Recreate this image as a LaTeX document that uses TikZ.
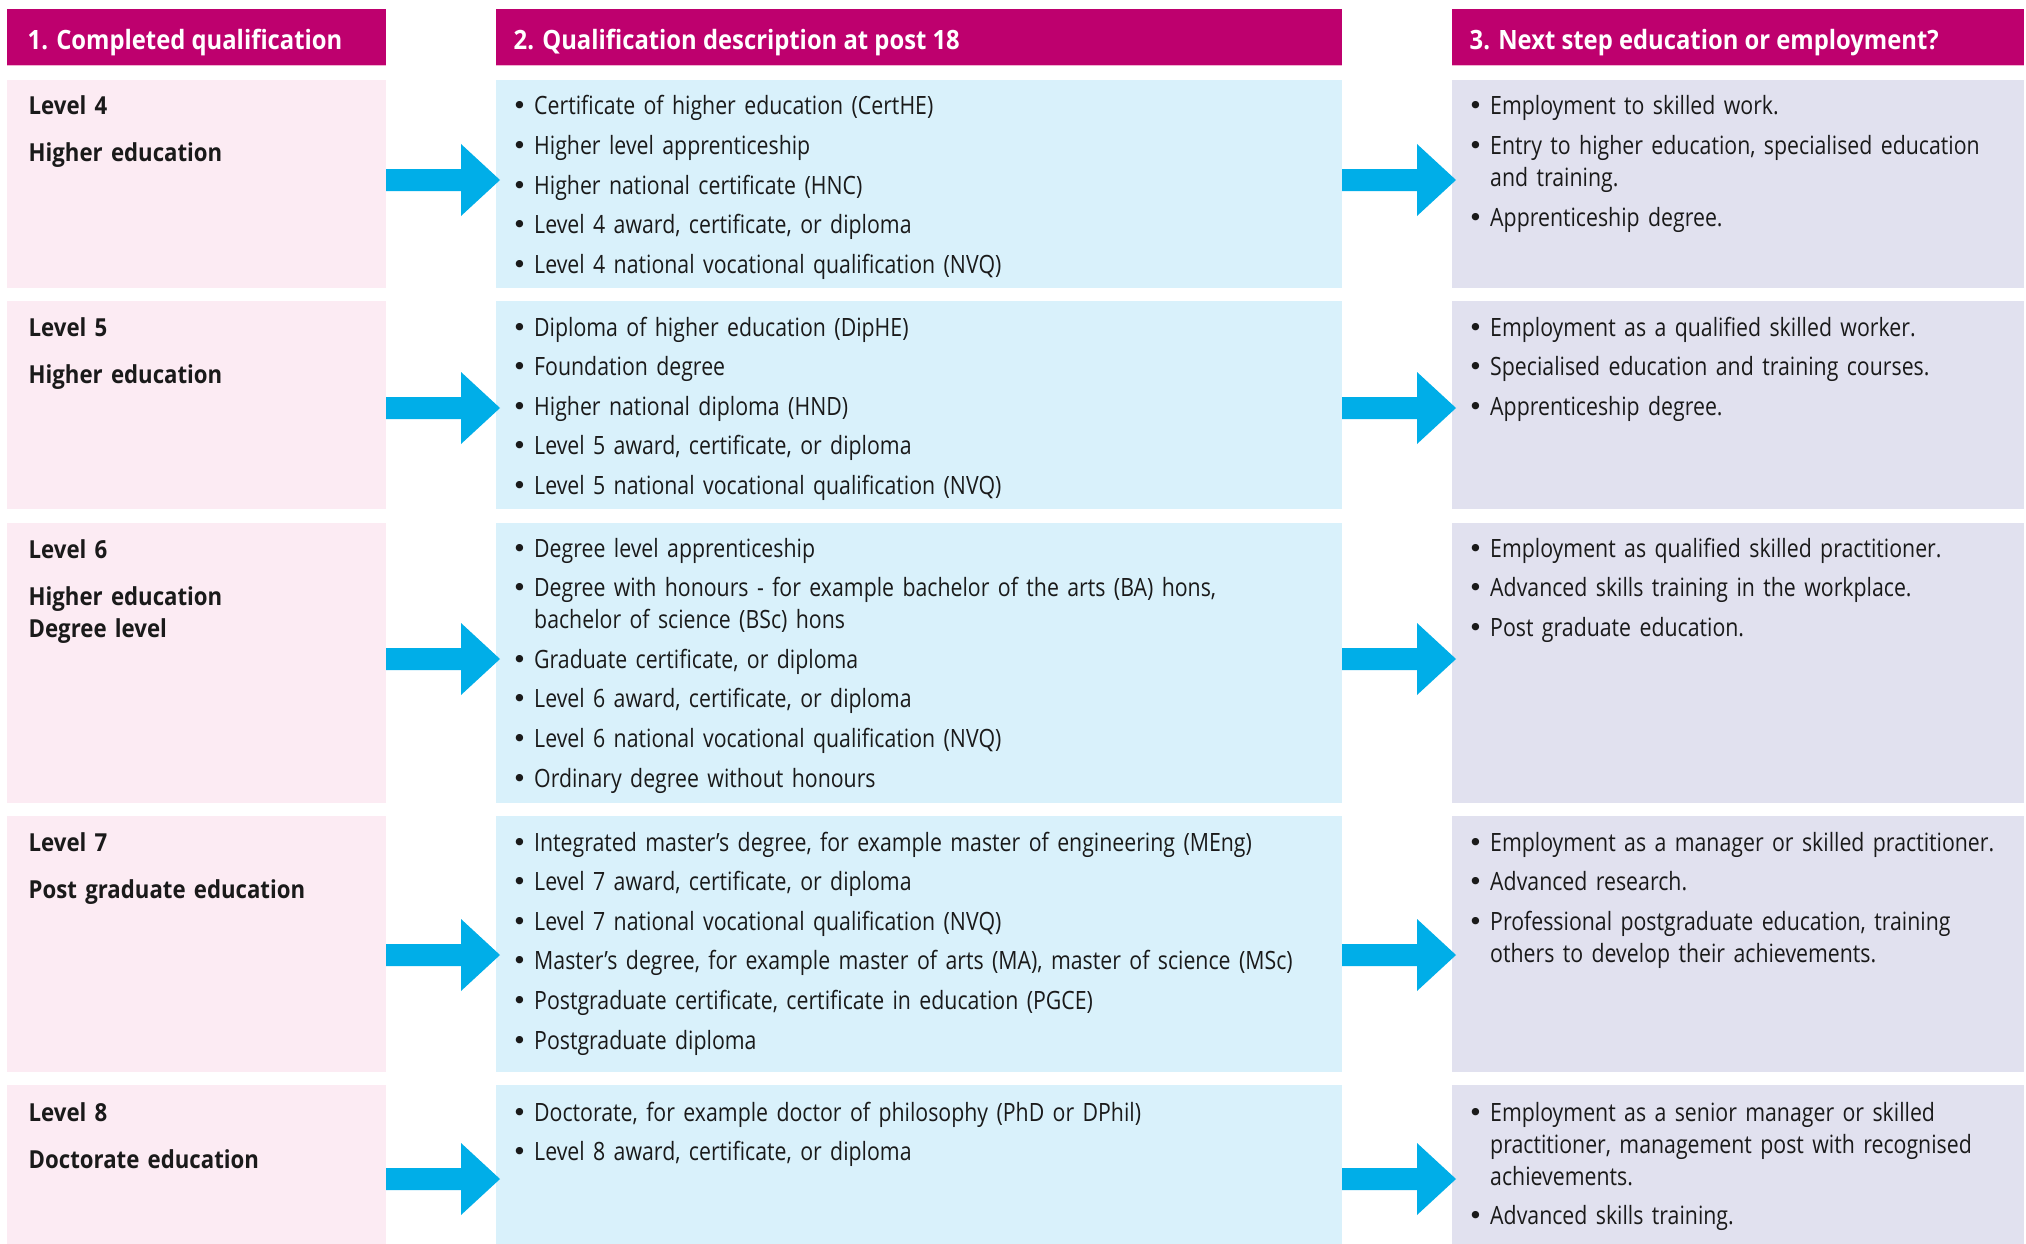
\documentclass[tikz,border=0pt]{standalone}
\usepackage{fontspec}
\setmainfont{Open Sans}[FakeStretch=0.845]
\newfontfamily\hdfont{Open Sans}[FakeStretch=0.895]
\newfontfamily\bulfont{DejaVu Sans}
\usetikzlibrary{calc}
\definecolor{hdrc}{RGB}{190,0,110}
\definecolor{pinkc}{RGB}{252,235,243}
\definecolor{bluec}{RGB}{217,241,251}
\definecolor{lavc}{RGB}{225,225,239}
\definecolor{arrc}{RGB}{0,174,232}
\definecolor{txtc}{RGB}{26,26,26}
\definecolor{linec}{RGB}{240,176,208}
\newcommand\bmark{\makebox[22pt][l]{\bulfont •}}
\newcommand\fitem[1]{\hangindent=22pt\hangafter=1\bmark#1\par}
\newcommand\bitem[1]{\par\hangindent=22pt\hangafter=1\noindent\bmark#1\par}
\tikzset{
  cell/.style={anchor=north west, inner sep=0pt, outer sep=0pt, draw=none},
  lcell/.style={cell, fill=pinkc, minimum width=379pt},
  mcell/.style={cell, fill=bluec, minimum width=846pt},
  rcell/.style={cell, fill=lavc, minimum width=572pt},
  hdrbox/.style={cell, fill=hdrc, minimum height=57pt},
  hdrtext/.style={anchor=base west, inner sep=0pt, text=white, font=\hdfont\bfseries\fontsize{26.6}{32}\selectfont},
  lvltext/.style={anchor=base west, inner sep=0pt, text=txtc, text width=340pt, align=left, font=\hdfont\bfseries\fontsize{24.8}{32}\selectfont},
  bultext/.style={anchor=base west, inner sep=0pt, text=txtc, align=left, font=\fontsize{25.2}{32}\selectfont},
  arrowfill/.style={fill=arrc, draw=none}
}
\newcommand\bigarrow[1]{%
  \fill[arrowfill] ($(#1)+(0,-11)$) -- ++(75,0) -- ++(0,-25) -- ($(#1)+(114,0)$) -- ++(-39,36) -- ++(0,-25) -- ++(-75,0) -- cycle;}
\begin{document}
\begin{tikzpicture}[x=1pt,y=-1pt]
\useasboundingbox (0,0) rectangle (2026,1244);
\fill[white] (0,0) rectangle (2026,1244);
% headers
\node[hdrbox, minimum width=379pt] (H1) at (7,9) {};
\node[hdrbox, minimum width=846pt] (H2) at (496,9) {};
\node[hdrbox, minimum width=572pt] (H3) at (1452,9) {};
\draw[linec, line width=1pt] (H1.south west) -- (H1.south east);
\draw[linec, line width=1pt] (H2.south west) -- (H2.south east);
\draw[linec, line width=1pt] (H3.south west) -- (H3.south east);
\node[hdrtext] (HT1) at (27.5,50) {1. Completed qualification};
\node[hdrtext] (HT2) at (513.5,50) {2. Qualification description at post 18};
\node[hdrtext] (HT3) at (1469.5,50) {3. Next step education or employment?};
% cells
\node[lcell, minimum height=208pt] (L1) at (7,80) {};
\node[mcell, minimum height=208pt] (M1) at (496,80) {};
\node[rcell, minimum height=208pt] (R1) at (1452,80) {};
\node[lcell, minimum height=208pt] (L2) at (7,301) {};
\node[mcell, minimum height=208pt] (M2) at (496,301) {};
\node[rcell, minimum height=208pt] (R2) at (1452,301) {};
\node[lcell, minimum height=280pt] (L3) at (7,523) {};
\node[mcell, minimum height=280pt] (M3) at (496,523) {};
\node[rcell, minimum height=280pt] (R3) at (1452,523) {};
\node[lcell, minimum height=256pt] (L4) at (7,816) {};
\node[mcell, minimum height=256pt] (M4) at (496,816) {};
\node[rcell, minimum height=256pt] (R4) at (1452,816) {};
\node[lcell, minimum height=159pt] (L5) at (7,1085) {};
\node[mcell, minimum height=159pt] (M5) at (496,1085) {};
\node[rcell, minimum height=159pt] (R5) at (1452,1085) {};
% arrow rows
\coordinate (y1) at (0,180);
\coordinate (y2) at (0,408);
\coordinate (y3) at (0,659);
\coordinate (y4) at (0,955);
\coordinate (y5) at (0,1179);
\foreach \i in {1,...,5}{
  \coordinate (al\i) at (L\i.east |- y\i);
  \coordinate (ar\i) at (M\i.east |- y\i);
  \bigarrow{al\i}
  \bigarrow{ar\i}
}
% left texts
\node[lvltext] (LT1) at (28.5,115) {Level 4\\[15pt]Higher education};
\node[lvltext] (LT2) at (28.5,336) {Level 5\\[15pt]Higher education};
\node[lvltext] (LT3) at (28.5,558) {Level 6\\[15pt]Higher education\\Degree level};
\node[lvltext] (LT4) at (28.5,851) {Level 7\\[15pt]Post graduate education};
\node[lvltext] (LT5) at (28.5,1121) {Level 8\\[15pt]Doctorate education};
% middle texts
\node[bultext, text width=820pt] (MT1) at (512,115) {\setlength{\parskip}{7.6pt}%
\fitem{Certificate of higher education (CertHE)}
\bitem{Higher level apprenticeship}
\bitem{Higher national certificate (HNC)}
\bitem{Level 4 award, certificate, or diploma}
\bitem{Level 4 national vocational qualification (NVQ)}};
\node[bultext, text width=820pt] (MT2) at (512,336) {\setlength{\parskip}{7.6pt}%
\fitem{Diploma of higher education (DipHE)}
\bitem{Foundation degree}
\bitem{Higher national diploma (HND)}
\bitem{Level 5 award, certificate, or diploma}
\bitem{Level 5 national vocational qualification (NVQ)}};
\node[bultext, text width=820pt] (MT3) at (512,557) {\setlength{\parskip}{7.6pt}%
\fitem{Degree level apprenticeship}
\bitem{Degree with honours - for example bachelor of the arts (BA) hons,\newline bachelor of science (BSc) hons}
\bitem{Graduate certificate, or diploma}
\bitem{Level 6 award, certificate, or diploma}
\bitem{Level 6 national vocational qualification (NVQ)}
\bitem{Ordinary degree without honours}};
\node[bultext, text width=820pt] (MT4) at (512,851) {\setlength{\parskip}{7.6pt}%
\fitem{Integrated master’s degree, for example master of engineering (MEng)}
\bitem{Level 7 award, certificate, or diploma}
\bitem{Level 7 national vocational qualification (NVQ)}
\bitem{Master’s degree, for example master of arts (MA), master of science (MSc)}
\bitem{Postgraduate certificate, certificate in education (PGCE)}
\bitem{Postgraduate diploma}};
\node[bultext, text width=820pt] (MT5) at (512,1121) {\setlength{\parskip}{7.6pt}%
\fitem{Doctorate, for example doctor of philosophy (PhD or DPhil)}
\bitem{Level 8 award, certificate, or diploma}};
% right texts
\node[bultext, text width=550pt] (RT1) at (1468,115) {\setlength{\parskip}{7.6pt}%
\fitem{Employment to skilled work.}
\bitem{Entry to higher education, specialised education\newline and training.}
\bitem{Apprenticeship degree.}};
\node[bultext, text width=550pt] (RT2) at (1468,336) {\setlength{\parskip}{7.6pt}%
\fitem{Employment as a qualified skilled worker.}
\bitem{Specialised education and training courses.}
\bitem{Apprenticeship degree.}};
\node[bultext, text width=550pt] (RT3) at (1468,557) {\setlength{\parskip}{7.6pt}%
\fitem{Employment as qualified skilled practitioner.}
\bitem{Advanced skills training in the workplace.}
\bitem{Post graduate education.}};
\node[bultext, text width=550pt] (RT4) at (1468,851) {\setlength{\parskip}{7.6pt}%
\fitem{Employment as a manager or skilled practitioner.}
\bitem{Advanced research.}
\bitem{Professional postgraduate education, training\newline others to develop their achievements.}};
\node[bultext, text width=550pt] (RT5) at (1468,1121) {\setlength{\parskip}{7.6pt}%
\fitem{Employment as a senior manager or skilled\newline practitioner, management post with recognised\newline achievements.}
\bitem{Advanced skills training.}};
\end{tikzpicture}
\end{document}
